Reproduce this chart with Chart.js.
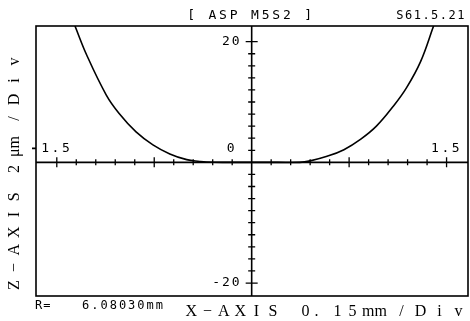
<!DOCTYPE html>
<html>
<head>
<meta charset="utf-8">
<script src="https://cdn.jsdelivr.net/npm/chart.js@4.4.0/dist/chart.umd.min.js"></script>
<style>
  body { margin: 0; background: #fff; }
  #wrap { width: 470px; height: 321px; }
</style>
</head>
<body>
<div id="wrap"><canvas id="profileChart" width="470" height="321"></canvas></div>
<script>
// Profile deviation: X in mm, Z in micrometres
const xValues = [-1.36, -1.27, -1.12, -1.02, -0.89, -0.76, -0.63, -0.50, -0.40, -0.35, -0.20, 0.00,
                 0.20, 0.37, 0.45, 0.58, 0.71, 0.84, 0.96, 1.09, 1.19, 1.30, 1.40];
const zValues = [22.6, 17.8, 11.2, 8.1, 5.05, 2.9, 1.4, 0.45, 0.15, 0.05, 0, 0,
                 0, 0, 0.25, 1.0, 2.1, 3.85, 6.0, 9.3, 12.3, 16.7, 22.6];

// Axis divisions (0.15 mm / 2 um)
const xTicks = [-1.5, -1.35, -1.2, -1.05, -0.9, -0.75, -0.6, -0.45, -0.3, -0.15,
                0.15, 0.3, 0.45, 0.6, 0.75, 0.9, 1.05, 1.2, 1.35, 1.5];
const xMajorTicks = [-1.5, -0.75, 0.75, 1.5];
const yTicks = [-20, -18, -16, -14, -12, -10, -8, -6, -4, -2,
                2, 4, 6, 8, 10, 12, 14, 16, 18, 20];
const yMajorTicks = [-20, 20];
const xTickLabels = [-1.5, 1.5];
const yTickLabels = [20, 0, -20];

const headerText = '[ ASP M5S2 ]';
const dateText = 'S61.5.21';
const radiusText = '6.08030mm';

const points = xValues.map((x, i) => ({ x: x, y: zValues[i] }));

function txt(ctx, s, x, y, font, align, spacing) {
    ctx.font = font;
    ctx.letterSpacing = (spacing || 0) + 'px';
    ctx.textAlign = align;
    ctx.textBaseline = 'middle';
    ctx.fillStyle = '#000';
    ctx.fillText(s, x, y);
    ctx.letterSpacing = '0px';
}

// spread the characters of s over equal cells between a and b
function spread(ctx, s, a, b, y) {
    const chars = Array.from(s);
    const w = (b - a) / chars.length;
    ctx.textAlign = 'center';
    chars.forEach((c, i) => ctx.fillText(c, a + w * (i + 0.5), y));
}

// Frame, axes through the origin, crossed ticks and all the lettering
const plotterFrame = {
    id: 'plotterFrame',
    beforeDatasetsDraw(chart) {
        const ctx = chart.ctx;
        const a = chart.chartArea;
        const xs = chart.scales.x, ys = chart.scales.y;
        const x0 = xs.getPixelForValue(0), y0 = ys.getPixelForValue(0);
        ctx.save();
        ctx.strokeStyle = '#000';
        ctx.lineWidth = 1.6;
        ctx.strokeRect(a.left, a.top, a.right - a.left, a.bottom - a.top);
        ctx.beginPath();
        ctx.moveTo(a.left, y0); ctx.lineTo(a.right, y0);
        ctx.moveTo(x0, a.top); ctx.lineTo(x0, a.bottom);
        ctx.moveTo(a.left - 4, y0 - 14); ctx.lineTo(a.left, y0 - 14);
        ctx.stroke();
        ctx.lineWidth = 1.3;
        ctx.beginPath();
        xTicks.forEach(v => {
            const px = xs.getPixelForValue(v);
            const h = xMajorTicks.includes(v) ? 5 : 3;
            ctx.moveTo(px, y0 - h); ctx.lineTo(px, y0 + h);
        });
        yTicks.forEach(v => {
            const py = ys.getPixelForValue(v);
            const w = yMajorTicks.includes(v) ? 6 : 3.5;
            ctx.moveTo(x0 - w, py); ctx.lineTo(x0 + w, py);
        });
        ctx.stroke();
        ctx.restore();
    },
    afterDraw(chart) {
        const ctx = chart.ctx;
        const xs = chart.scales.x, ys = chart.scales.y;
        const x0 = xs.getPixelForValue(0), y0 = ys.getPixelForValue(0);
        const mono = '13px "DejaVu Sans Mono"';
        ctx.save();
        yTickLabels.forEach(v => {
            let py = ys.getPixelForValue(v);
            let px = x0 - 10;
            if (v === 0) { py -= 14; px = x0 - 15; }
            txt(ctx, String(v), px, py, mono, 'right', 2);
        });
        xTickLabels.forEach(v => {
            txt(ctx, String(Math.abs(v)), xs.getPixelForValue(v), y0 - 14, mono, 'center', 2.5);
        });
        txt(ctx, headerText, 251, 16, mono, 'center', 2.8);
        txt(ctx, dateText, 466, 16, '12px "DejaVu Sans Mono"', 'right', 1.5);
        txt(ctx, 'R=', 35, 306, '12px "DejaVu Sans Mono"', 'left', 1);
        txt(ctx, radiusText, 82, 306, '12px "DejaVu Sans Mono"', 'left', 2);

        // axis titles in spaced serif lettering
        ctx.font = '16px "Liberation Serif"';
        ctx.fillStyle = '#000';
        ctx.textBaseline = 'middle';
        spread(ctx, 'X\u2212AXIS', 183, 281, 312);
        spread(ctx, '0.', 300, 322, 312);
        spread(ctx, '15', 330, 360, 312);
        ctx.textAlign = 'left';
        ctx.fillText('mm', 362, 312);
        spread(ctx, '/Div', 392, 468, 312);

        ctx.translate(15, 0);
        ctx.rotate(-Math.PI / 2);
        spread(ctx, 'Z\u2212AXIS', -294, -188, 0);
        spread(ctx, '2', -177, -161, 0);
        ctx.textAlign = 'left';
        ctx.fillText('\u03bcm', -157, 0);
        spread(ctx, '/Div', -128, -52, 0);
        ctx.restore();
    }
};

new Chart(document.getElementById('profileChart').getContext('2d'), {
    type: 'scatter',
    data: {
        datasets: [{
            data: points,
            showLine: true,
            borderColor: '#000',
            borderWidth: 1.6,
            pointRadius: 0,
            tension: 0.4
        }]
    },
    options: {
        responsive: false,
        animation: false,
        layout: { padding: { left: 36, right: 2, top: 26, bottom: 25 } },
        plugins: { legend: { display: false }, tooltip: { enabled: false } },
        scales: {
            x: { type: 'linear', min: -1.66, max: 1.665, display: false },
            y: { type: 'linear', min: -22.15, max: 22.6, display: false }
        }
    },
    plugins: [plotterFrame]
});
</script>
</body>
</html>
